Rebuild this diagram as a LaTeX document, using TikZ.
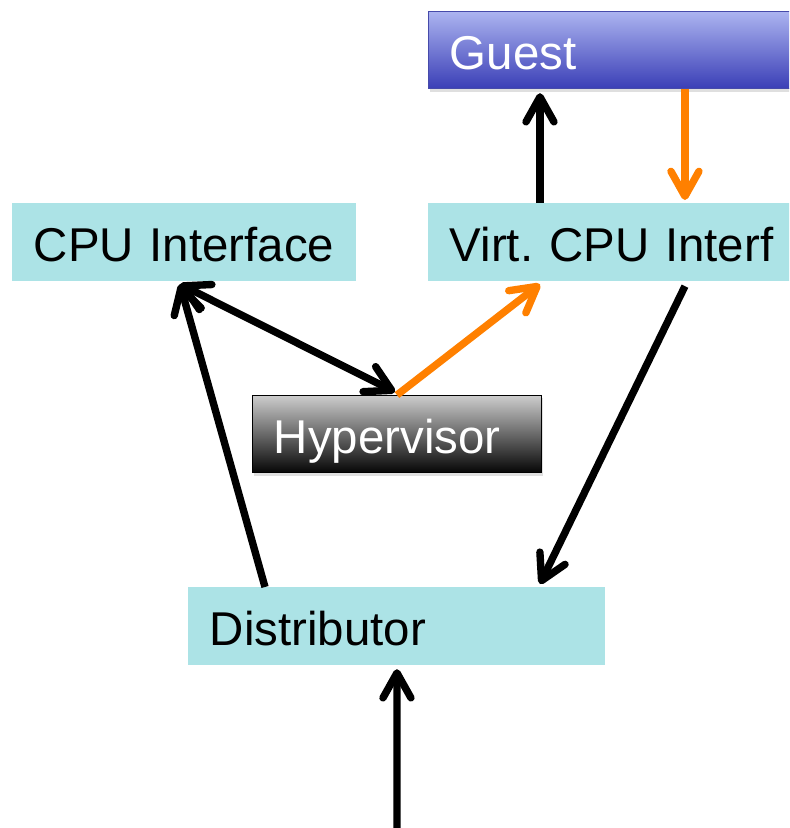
\documentclass[tikz,border=0pt]{standalone}
\usepackage{fontspec}
\setmainfont{Liberation Sans}
\usetikzlibrary{arrows.meta,shadows}

\definecolor{ifcyan}{RGB}{172,227,230}
\definecolor{guesttop}{RGB}{172,180,240}
\definecolor{guestbot}{RGB}{58,62,182}
\definecolor{guestline}{RGB}{70,74,170}
\definecolor{hvtop}{RGB}{205,205,205}
\definecolor{hvbot}{RGB}{5,5,5}
\definecolor{virtorange}{RGB}{255,128,0}

\begin{document}
\begin{tikzpicture}[x=0.02cm,y=-0.02cm,
    box/.style={anchor=north west,inner xsep=0.43cm,inner ysep=0pt,align=left,
        minimum height=1.55cm,text height=22pt,text depth=0pt,
        font=\fontsize{27}{30}\selectfont},
    ifbox/.style={box,fill=ifcyan},
    link/.style={line width=4.2pt,-{Straight Barb[round,length=0.5cm,width=0.56cm]}},
    link2/.style={link,{Straight Barb[round,length=0.5cm,width=0.56cm]}-{Straight Barb[round,length=0.5cm,width=0.56cm]}}]
    \useasboundingbox (0,0) rectangle (789,828);
    \clip (0,0) rectangle (789,828);

    \node[box,text width=8.1cm,top color=guesttop,bottom color=guestbot,draw=guestline,
        text=white,drop shadow={opacity=0.25,shadow xshift=0.04cm,shadow yshift=-0.06cm}]
        (guest) at (428,11) {Guest};
    \node[ifbox,text width=6.02cm] (cpuif) at (12,203) {CPU Interface};
    \node[ifbox,text width=8.1cm] (virtif) at (428,203) {Virt.\ CPU Interf};
    \node[box,text width=4.92cm,top color=hvtop,bottom color=hvbot,draw=black,
        text=white,drop shadow={opacity=0.25,shadow xshift=0.04cm,shadow yshift=-0.06cm}]
        (hyp) at (252,395) {Hypervisor};
    \node[ifbox,text width=7.48cm] (dist) at (188,587) {Distributor};
    \coordinate (irq) at (397,840);

    \draw[link] ([xshift=2.24cm]virtif.north west) -- ([xshift=2.24cm,yshift=-0.08cm]guest.south west);
    \draw[link,virtorange] ([xshift=5.14cm]guest.south west) -- ([xshift=5.14cm,yshift=0.06cm]virtif.north west);
    \draw[link2] ([xshift=3.36cm,yshift=-0.06cm]cpuif.south west) -- ([xshift=2.86cm,yshift=0.06cm]hyp.north west);
    \draw[link,virtorange] ([xshift=2.9cm]hyp.north west) -- ([xshift=2.24cm,yshift=-0.06cm]virtif.south west);
    \draw[link] ([xshift=5.14cm,yshift=-0.1cm]virtif.south west) -- ([xshift=7.04cm,yshift=0.06cm]dist.north west);
    \draw[link] ([xshift=1.54cm]dist.north west) -- ([xshift=3.36cm,yshift=-0.06cm]cpuif.south west);
    \draw[link] (irq) -- ([xshift=4.18cm,yshift=-0.08cm]dist.south west);
\end{tikzpicture}
\end{document}
